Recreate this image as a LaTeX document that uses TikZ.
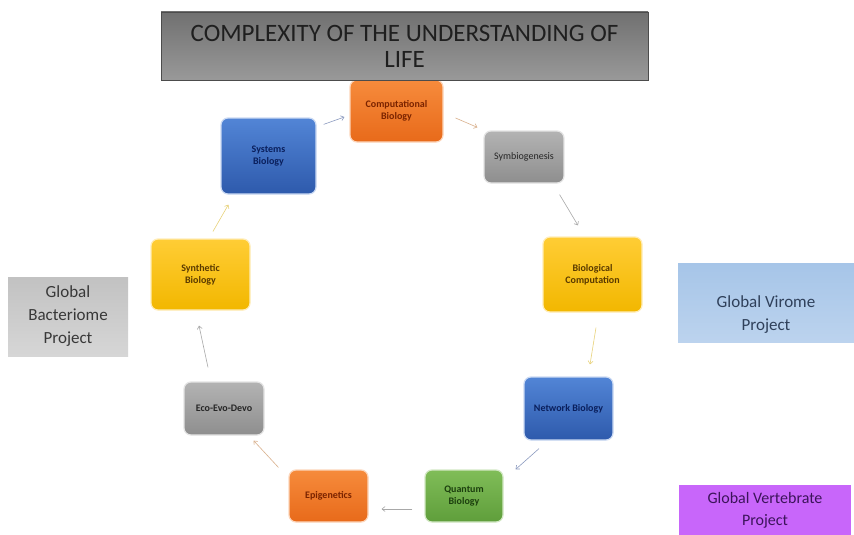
\documentclass[tikz,border=0pt]{standalone}
\usepackage{fontspec}
\setmainfont{Carlito}
\usetikzlibrary{arrows.meta,calc}
\definecolor{orT}{HTML}{F68B3C}\definecolor{orB}{HTML}{E86A1A}\definecolor{orX}{HTML}{7A2300}
\definecolor{blT}{HTML}{5285D6}\definecolor{blB}{HTML}{2E5AAC}\definecolor{blX}{HTML}{0A1F5C}
\definecolor{grT}{HTML}{B3B3B3}\definecolor{grB}{HTML}{8E8E8E}\definecolor{grX}{HTML}{262626}
\definecolor{yeT}{HTML}{FFCD35}\definecolor{yeB}{HTML}{F2B700}\definecolor{yeX}{HTML}{5A3A00}
\definecolor{gnT}{HTML}{80BD58}\definecolor{gnB}{HTML}{5F9E3B}\definecolor{gnX}{HTML}{1C3F0E}
\definecolor{viT}{HTML}{A6C5E8}\definecolor{viB}{HTML}{BCD3EE}\definecolor{viX}{HTML}{2F405A}
\definecolor{arrG}{HTML}{A8A8A8}\definecolor{arrY}{HTML}{E8D27A}\definecolor{arrB}{HTML}{8C9BC0}\definecolor{arrO}{HTML}{D9B08C}
\tikzset{
  box/.style={rounded corners=7pt, minimum width=#1, inner sep=1pt, align=center,
    font=\fontsize{10}{12}\selectfont\bfseries, line width=1.2pt},
  obox/.style={box=#1, top color=orT, bottom color=orB, draw=orT!35, text=orX},
  bbox/.style={box=#1, top color=blT, bottom color=blB, draw=blT!30, text=blX},
  gbox/.style={box=#1, top color=grT, bottom color=grB, draw=grT!35, text=grX},
  ybox/.style={box=#1, top color=yeT, bottom color=yeB, draw=yeT!35, text=yeX},
  nbox/.style={box=#1, top color=gnT, bottom color=gnB, draw=gnT!35, text=gnX},
  side/.style={minimum width=#1, inner sep=0pt, align=center, font=\fontsize{17}{23}\selectfont},
  arr/.style={-{Straight Barb[length=3pt,width=5pt]}, line width=0.6pt, draw=arrG},
}
\begin{document}
\begin{tikzpicture}[x=1pt,y=-1pt]
\useasboundingbox[fill=white] (0,0) rectangle (854,535);
% cycle nodes
\node[obox=93pt, minimum height=62pt] (comp) at (396.5,111) {Computational\\Biology};
\node[bbox=95pt, minimum height=76pt] (sys) at (268.5,156) {Systems\\Biology};
\node[gbox=80pt, minimum height=52pt, font=\fontsize{10}{12}\selectfont] (symb) at (524,157) {Symbiogenesis};
\node[ybox=99pt, minimum height=75pt] (bioc) at (592.5,274.5) {Biological\\Computation};
\node[bbox=89pt, minimum height=63pt] (net) at (568.5,408.5) {Network Biology};
\node[nbox=78pt, minimum height=52pt] (quant) at (464,496) {Quantum\\Biology};
\node[obox=79pt, minimum height=52pt] (epi) at (328.5,496) {Epigenetics};
\node[gbox=80pt, minimum height=53pt] (eco) at (224,408.5) {Eco-Evo-Devo};
\node[ybox=99pt, minimum height=71pt] (synth) at (200.5,274.5) {Synthetic\\Biology};
% title
\node[minimum width=487pt, minimum height=68pt, inner sep=0pt, align=center,
  top color=black!56, bottom color=black!40, draw=black!70, line width=0.6pt,
  text=black!88, font=\fontsize{25}{26}\selectfont] (title) at (404.5,46)
  {COMPLEXITY OF THE UNDERSTANDING OF\\LIFE};
% side boxes
\node[side=120pt, minimum height=79pt, top color=black!24, bottom color=black!16, text=black!78] (bact) at (68,316.5) {Global\\Bacteriome\\Project};
\node[side=176pt, minimum height=79pt, top color=viT, bottom color=viB,
  label={[side=10pt, text=viX, yshift=-12pt]center:Global Virome\\Project}] (vir) at (766,302.5) {};
\node[side=172pt, minimum height=50pt, fill={rgb,255:red,200;green,102;blue,250}, text={rgb,255:red,60;green,20;blue,90}, font=\fontsize{16}{22}\selectfont] (vert) at (765,510) {Global Vertebrate\\Project};
% arrows
\draw[arr, draw=arrB] ($(sys.north east)+(7,7)$) -- ($(comp.west)+(-5,6)$);
\draw[arr, draw=arrO] ($(comp.east)+(12,7)$) -- ($(symb.north west)+(-6,-3)$);
\draw[arr] ($(symb.south east)+(-5,11)$) -- ($(bioc.north)+(-14.5,-11)$);
\draw[arr, draw=arrY] ($(bioc.south)+(3.5,15)$) -- ($(net.north)+(21.5,-12)$);
\draw[arr, draw=arrB] ($(net.south)+(-29.5,8)$) -- ($(quant.north east)+(12,0)$);
\draw[arr] ($(quant.west)+(-12,13)$) -- ($(epi.east)+(13,13)$);
\draw[arr, draw=arrO] ($(epi.north west)+(-10,-2)$) -- ($(eco.south east)+(-11,5)$);
\draw[arr] ($(eco.north)+(-16,-14)$) -- ($(synth.south)+(-1.5,15)$);
\draw[arr, draw=arrY] ($(synth.north)+(12.5,-7)$) -- ($(sys.south west)+(8,10)$);
\end{tikzpicture}
\end{document}
